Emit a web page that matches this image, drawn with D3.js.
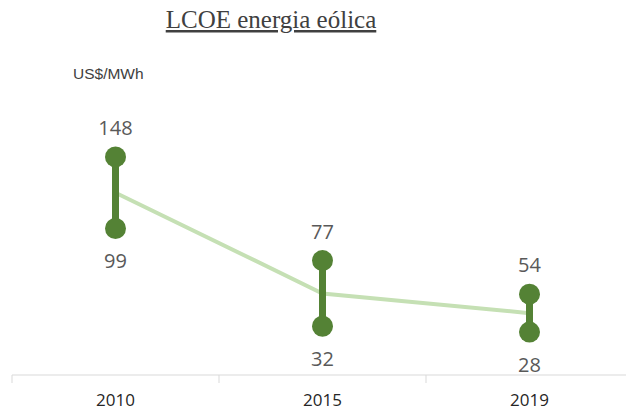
<!DOCTYPE html>
<html>
<head>
<meta charset="utf-8">
<script src="https://cdn.jsdelivr.net/npm/d3@7"></script>
<style>
  body { margin: 0; background: #fff; }
  svg { display: block; }
</style>
</head>
<body>
<svg id="chart" width="626" height="411"></svg>
<script>
// LCOE range per year (US$/MWh)
const years = ['2010', '2015', '2019'];
const highValues = [148, 77, 54];
const lowValues = [99, 32, 28];
const avgValues = [123.5, 54.5, 41];

const svg = d3.select('#chart');
const width = 626;

const xScale = d3.scaleBand().domain(years).range([12, 633]).padding(0);
const yScale = d3.scaleLinear().domain([0, 160]).range([373, 139.4]);
const cx = d => xScale(d) + xScale.bandwidth() / 2;

// title
svg.append('text')
  .attr('x', 271)
  .attr('y', 28)
  .attr('text-anchor', 'middle')
  .attr('font-family', 'Liberation Serif, DejaVu Serif, serif')
  .attr('font-size', 25)
  .attr('fill', '#404040')
  .attr('text-decoration', 'underline')
  .text('LCOE energia eólica');

svg.append('text')
  .attr('x', 73)
  .attr('y', 79)
  .attr('font-family', 'Liberation Sans, Arial, sans-serif')
  .attr('font-size', 15.5)
  .attr('fill', '#404040')
  .text('US$/MWh');

// x axis
const axisG = svg.append('g').attr('transform', 'translate(0,375)');
axisG.append('line')
  .attr('x1', 12).attr('x2', width)
  .attr('stroke', '#d9d9d9').attr('stroke-width', 1);
axisG.selectAll('.tick-line')
  .data(years)
  .enter()
  .append('line')
  .attr('class', 'tick-line')
  .attr('x1', d => xScale(d)).attr('x2', d => xScale(d))
  .attr('y1', 0).attr('y2', 8)
  .attr('stroke', '#d9d9d9');
axisG.selectAll('.tick-label')
  .data(years)
  .enter()
  .append('text')
  .attr('class', 'tick-label')
  .attr('x', cx)
  .attr('y', 31)
  .attr('text-anchor', 'middle')
  .attr('font-family', 'Open Sans, Noto Sans, sans-serif')
  .attr('font-size', 17)
  .attr('fill', '#262626')
  .text(d => d);

// average line
const line = d3.line()
  .x((d, i) => cx(years[i]))
  .y(d => yScale(d));
svg.append('path')
  .datum(avgValues)
  .attr('d', line)
  .attr('fill', 'none')
  .attr('stroke', '#c5e0b4')
  .attr('stroke-width', 4);

// range bars
const rows = years.map((y, i) => ({ year: y, high: highValues[i], low: lowValues[i] }));
const groups = svg.selectAll('.range')
  .data(rows)
  .enter()
  .append('g')
  .attr('class', 'range');

groups.append('line')
  .attr('x1', d => cx(d.year)).attr('x2', d => cx(d.year))
  .attr('y1', d => yScale(d.high)).attr('y2', d => yScale(d.low))
  .attr('stroke', '#548235')
  .attr('stroke-width', 7);

groups.append('circle')
  .attr('cx', d => cx(d.year)).attr('cy', d => yScale(d.high))
  .attr('r', 10.5).attr('fill', '#548235');
groups.append('circle')
  .attr('cx', d => cx(d.year)).attr('cy', d => yScale(d.low))
  .attr('r', 10.5).attr('fill', '#548235');

const labelFont = 'Open Sans, Noto Sans, sans-serif';
groups.append('text')
  .attr('x', d => cx(d.year))
  .attr('y', d => yScale(d.high) - 22)
  .attr('text-anchor', 'middle')
  .attr('font-family', labelFont)
  .attr('font-size', 20)
  .attr('fill', '#595959')
  .text(d => d.high);
groups.append('text')
  .attr('x', d => cx(d.year))
  .attr('y', d => yScale(d.low) + 40)
  .attr('text-anchor', 'middle')
  .attr('font-family', labelFont)
  .attr('font-size', 20)
  .attr('fill', '#595959')
  .text(d => d.low);
</script>
</body>
</html>
